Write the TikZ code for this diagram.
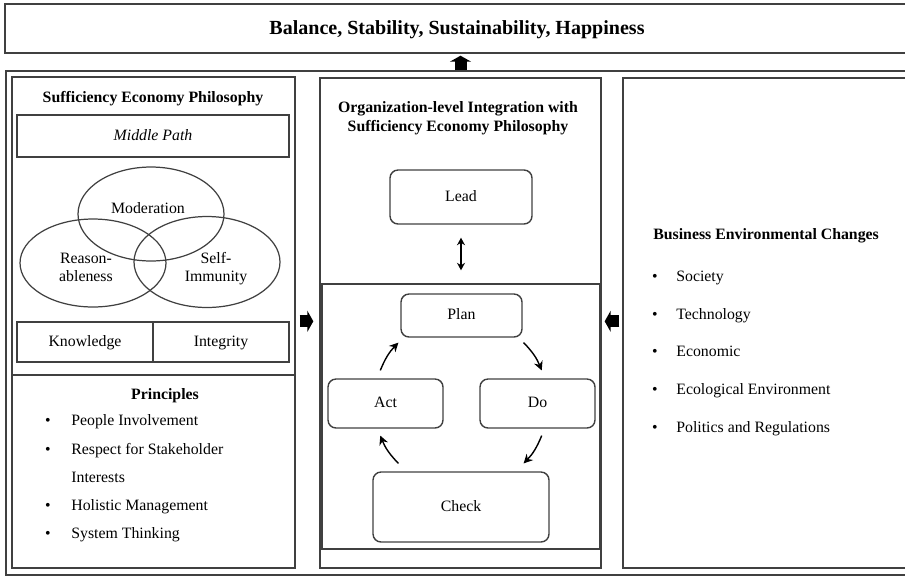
\documentclass[tikz,border=0pt]{standalone}
\usepackage{fontspec}
\setmainfont{Liberation Serif}
\usetikzlibrary{shapes.geometric, arrows.meta, positioning}
\colorlet{framegrey}{black!75}
\tikzset{panel/.style={draw=framegrey, line width=0.8pt, inner sep=0pt}}
\tikzset{txt/.style={inner sep=0pt, text height=6.5pt, text depth=1.5pt, font=\fontsize{9}{11}\selectfont}}
\tikzset{plainbox/.style={panel, txt}}
\tikzset{roundbox/.style={panel, txt, rounded corners=0.16cm}}
\tikzset{venn/.style={draw=framegrey, line width=0.7pt, ellipse, inner sep=0pt, minimum width=2.92cm, minimum height=1.8cm}}
\tikzset{head/.style={inner sep=0pt, text height=6.5pt, text depth=1.5pt, font=\fontsize{9}{10.8}\selectfont\bfseries}}
\tikzset{cycarrow/.style={line width=0.8pt, -{Stealth[length=0.18cm, width=0.18cm]}}}
\tikzset{blockarrow/.style={line width=0.24cm, -{Triangle[length=0.12cm, width=0.42cm]}}}

\begin{document}
\begin{tikzpicture}[x=0.02cm, y=-0.02cm]
    \useasboundingbox (0, 0) rectangle (905, 579);

    % goal and outer frame
    \node [plainbox, minimum width=18.5cm, minimum height=0.98cm] (Goal) at (467.5, 28.5) {};
    \node [inner sep=0pt, text height=8pt, text depth=2pt, font=\fontsize{11.4}{13}\selectfont\bfseries] (GoalT) at (457, 29) {Balance, Stability, Sustainability, Happiness};
    \node [panel, minimum width=18.5cm, minimum height=10.08cm] (Frame) at (468.5, 323) {};

    % left panel
    \node [panel, minimum width=5.66cm, minimum height=5.96cm] (SEP) at (153.5, 226) {};
    \node [panel, minimum width=5.66cm, minimum height=3.86cm] (Prin) at (153.5, 471.5) {};
    \node [head] (SEPT) at (153, 98) {Sufficiency Economy Philosophy};
    \node [plainbox, minimum width=5.44cm, minimum height=0.84cm, font=\fontsize{9}{11}\selectfont\itshape] (Path) at (153, 136) {Middle Path};

    \node [venn, minimum height=1.88cm] (Mod) at (151, 214) {};
    \node [venn, minimum height=1.76cm] (Rea) at (93, 263) {};
    \node [venn, minimum height=1.82cm] (Imm) at (207, 262) {};
    \node [txt] (ModT) at (148, 209) {Moderation};
    \node [txt] (ReaT1) at (86, 259) {Reason-};
    \node [txt] (ReaT2) at (86, 277) {ableness};
    \node [txt] (ImmT1) at (216, 259) {Self-};
    \node [txt] (ImmT2) at (216, 277) {Immunity};

    \node [plainbox, minimum width=2.72cm, minimum height=0.8cm] (Know) at (85, 342) {Knowledge};
    \node [plainbox, minimum width=2.72cm, minimum height=0.8cm] (Integ) at (221, 342) {Integrity};

    \node [head] (PrinT) at (165, 395) {Principles};
    \foreach \y/\t [count=\i] in {421/People Involvement, 450/Respect for Stakeholder, 506/Holistic Management, 534/System Thinking} {
        \node [txt] (pb\i) at (48, \y) {\textbullet};
        \node [txt, anchor=west] (p\i) at (71, \y) {\t};
    }
    \node [txt, anchor=west] (p5) at (71, 478) {Interests};

    % middle panel
    \node [panel, minimum width=5.62cm, minimum height=9.8cm] (Mid) at (460.5, 323) {};
    \node [head] (MidT1) at (458, 108) {Organization-level Integration with};
    \node [head] (MidT2) at (458, 127) {Sufficiency Economy Philosophy};
    \node [roundbox, minimum width=2.84cm, minimum height=1.08cm] (Lead) at (461, 197) {Lead};
    \node [panel, minimum width=5.56cm, minimum height=5.3cm] (PDCA) at (461, 416.5) {};

    \node [roundbox, minimum width=2.42cm, minimum height=0.86cm] (Plan) at (461.5, 315.5) {Plan};
    \node [roundbox, minimum width=2.3cm, minimum height=0.98cm] (Act) at (385.5, 403.5) {Act};
    \node [roundbox, minimum width=2.3cm, minimum height=0.98cm] (Do) at (537.5, 403.5) {Do};
    \node [roundbox, minimum width=3.52cm, minimum height=1.4cm] (Check) at (461, 507) {Check};

    \draw [line width=0.8pt, {Stealth[length=0.15cm, width=0.16cm]}-{Stealth[length=0.15cm, width=0.16cm]}, shorten <=0.26cm, shorten >=0.26cm] (Lead) -- (PDCA);

    % cycle arrows
    \coordinate (c1) at (523.6, 342.6);
    \coordinate (c2) at (541.7, 370.4);
    \coordinate (c3) at (541.7, 435.6);
    \coordinate (c4) at (523.6, 463.4);
    \coordinate (c5) at (398.4, 463.4);
    \coordinate (c6) at (380.3, 435.6);
    \coordinate (c7) at (380.3, 370.4);
    \coordinate (c8) at (398.4, 342.6);
    \draw [cycarrow] (c1) to [bend left=11] (c2);
    \draw [cycarrow] (c3) to [bend left=11] (c4);
    \draw [cycarrow] (c5) to [bend left=11] (c6);
    \draw [cycarrow] (c7) to [bend left=11] (c8);

    % right panel
    \node [panel, minimum width=6.0cm, minimum height=9.8cm] (Env) at (773, 323) {};
    \node [head, anchor=west] (EnvT) at (653, 235) {Business Environmental Changes};
    \foreach \t [count=\i] in {Society, Technology, Economic, Ecological Environment, Politics and Regulations} {
        \node [txt] (eb\i) at (655, 239 + 37.8*\i) {\textbullet};
        \node [txt, anchor=west] (e\i) at (676, 239 + 37.8*\i) {\t};
    }

    % block arrows
    \draw [blockarrow, shorten >=0.04cm] (Mid.north |- Frame.north) -- (Mid.north |- Goal.south);
    \draw [blockarrow, shorten <=0.08cm, shorten >=0.12cm] (SEP.east |- Know.north) -- (Mid.west |- Know.north);
    \draw [blockarrow, shorten <=0.06cm, shorten >=0.06cm] (Env.west |- Know.north) -- (Mid.east |- Know.north);
\end{tikzpicture}
\end{document}
